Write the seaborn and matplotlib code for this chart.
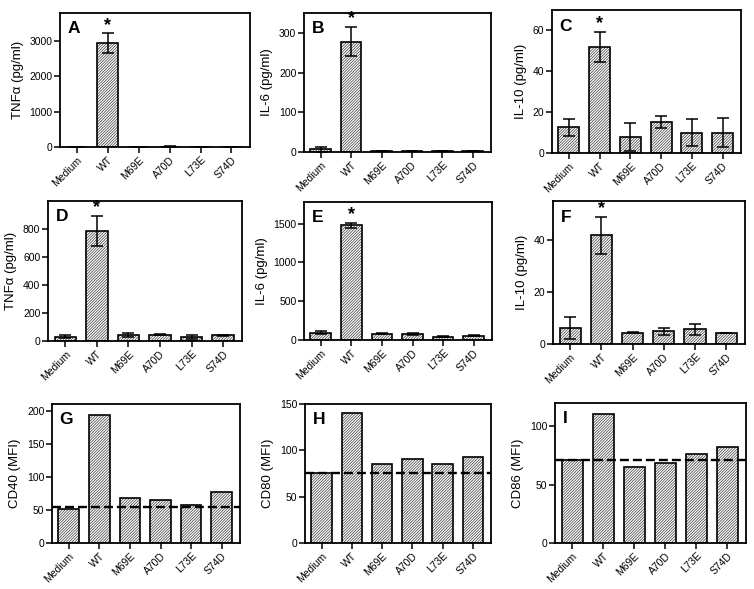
# Cytokine / surface marker panels (A-I), hatched bars in a 3x3 grid
import numpy as np
import pandas as pd
import matplotlib
matplotlib.use("Agg")
import matplotlib.pyplot as plt
import matplotlib.colors as mcolors
import seaborn as sns

# 1. DATA
groups = ["Medium", "WT", "M69E", "A70D", "L73E", "S74D"]

# row 1
tnf_1 = [10, 2940, 8, 12, 6, 10]
tnf_1_err = [3, 280, 2, 3, 2, 3]
il6_1 = [7, 278, 2, 2, 2, 2]
il6_1_err = [6, 37, 0.5, 0.5, 0.5, 0.5]
il10_1 = [12.5, 52, 7.7, 15.3, 9.9, 9.9]
il10_1_err = [4, 7.4, 6.8, 3, 6.5, 7]

# row 2
tnf_2 = [31, 783, 45, 45, 31, 40]
tnf_2_err = [10, 107, 15, 4, 15, 5]
il6_2 = [95, 1480, 82, 78, 43, 56]
il6_2_err = [17, 35, 5, 12, 4, 10]
il10_2 = [6.1, 41.8, 4.4, 4.9, 5.6, 4.1]
il10_2_err = [4.3, 7.1, 0.3, 1.3, 2.2, 0]

# row 3 (MFI, dashed line = medium level)
cd40 = [51, 194, 68.7, 65.7, 58, 77.8]
cd40_base = 54
cd80 = [76, 140, 85, 90.5, 85, 93]
cd80_base = 76
cd86 = [70.9, 110.6, 65.1, 68.6, 76.3, 82]
cd86_base = 71

# 2. SETTINGS
sns.set_style("ticks")
plt.rcParams["font.family"] = ["Liberation Sans", "DejaVu Sans"]
plt.rcParams["hatch.linewidth"] = 0.5
plt.rcParams["axes.linewidth"] = 1.3
for key in ["text.color", "axes.labelcolor", "xtick.color", "ytick.color",
            "axes.edgecolor"]:
    plt.rcParams[key] = "black"

hatch_grey = mcolors.to_rgba("#3a3a3a")

panels = [
    # letter, ylabel, values, errors, ymax, ticks, baseline, box (l, r, t, b in px)
    ("A", "TNF\u03b1 (pg/ml)", tnf_1, tnf_1_err, 3800, [0, 1000, 2000, 3000], None, (60, 250, 13, 147)),
    ("B", "IL-6 (pg/ml)", il6_1, il6_1_err, 350, [0, 100, 200, 300], None, (304, 491, 13, 152)),
    ("C", "IL-10 (pg/ml)", il10_1, il10_1_err, 70, [0, 20, 40, 60], None, (552, 741, 10, 153)),
    ("D", "TNF\u03b1 (pg/ml)", tnf_2, tnf_2_err, 1000, [0, 200, 400, 600, 800], None, (48, 242, 201, 341)),
    ("E", "IL-6 (pg/ml)", il6_2, il6_2_err, 1780, [0, 500, 1000, 1500], None, (304, 492, 202, 340)),
    ("F", "IL-10 (pg/ml)", il10_2, il10_2_err, 55, [0, 20, 40], None, (553, 745, 201, 344)),
    ("G", "CD40 (MFI)", cd40, None, 210, [0, 50, 100, 150, 200], cd40_base, (52, 240, 404, 543)),
    ("H", "CD80 (MFI)", cd80, None, 150, [0, 50, 100, 150], cd80_base, (305, 491, 404, 543)),
    ("I", "CD86 (MFI)", cd86, None, 120, [0, 50, 100], cd86_base, (555, 746, 403, 543)),
]

W, H = 754, 589
fig = plt.figure(figsize=(W / 100, H / 100), dpi=100)

# 3. DRAW PANELS
for letter, ylabel, vals, errs, ymax, ticks, base, box in panels:
    l, r, t, b = box
    ax = fig.add_axes([l / W, 1 - b / H, (r - l) / W, (b - t) / H])
    df = pd.DataFrame({"group": groups, "value": vals})
    sns.barplot(data=df, x="group", y="value", ax=ax, color="white",
                edgecolor="black", linewidth=1.2, width=0.68,
                errorbar=None)
    for bar in ax.patches:
        bar.set_hatch("////////////")
        if hasattr(bar, "set_hatchcolor"):
            bar.set_hatchcolor(hatch_grey)
        else:
            bar._hatch_color = hatch_grey

    if errs is not None:
        ax.errorbar(x=np.arange(len(groups)), y=vals, yerr=errs, fmt="none",
                    ecolor="black", elinewidth=1.1, capsize=4.5, capthick=1.1)
        top = vals[1] + errs[1]
        ax.annotate("*", xy=(1, top), xytext=(0, 6), textcoords="offset points",
                    ha="center", va="center", fontsize=13, fontweight="bold")

    if base is not None:
        ax.axhline(base, color="black", lw=1.7, ls=(0, (3.8, 1.7)))

    ax.set_xlim(-0.55, 5.6)
    ax.set_ylim(0, ymax)
    ax.set_yticks(ticks)
    ax.set_xlabel("")
    ax.set_ylabel(ylabel, fontsize=9.5)
    ax.tick_params(axis="both", labelsize=7.5, length=4, width=1.1,
                   direction="out", pad=1.5)
    ax.set_xticks(range(len(groups)))
    ax.set_xticklabels(groups, rotation=45, ha="right",
                       rotation_mode="anchor")
    for side in ["top", "right", "left", "bottom"]:
        ax.spines[side].set_visible(True)
        ax.spines[side].set_linewidth(1.3)
    ax.text(0.04, 0.94, letter, transform=ax.transAxes, ha="left",
            va="top", fontsize=12.5, fontweight="bold")

fig.savefig("out.png", dpi=100)
